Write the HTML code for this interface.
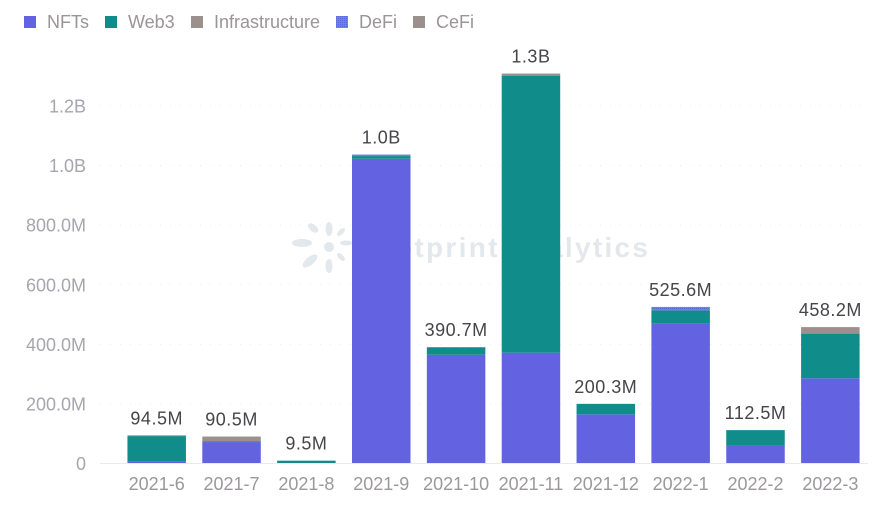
<!DOCTYPE html>
<html lang="en">
<head>
<meta charset="utf-8">
<title>Monthly funding by category</title>
<style>
html,body{margin:0;padding:0;background:#fff;width:885px;height:509px;overflow:hidden}
svg{display:block}
text{font-family:"Liberation Sans",sans-serif;font-size:18px}
</style>
</head>
<body>
<svg id="chart" width="885" height="509" viewBox="0 0 885 509" xmlns="http://www.w3.org/2000/svg">
<defs>
<pattern id="defi-hatch" width="2" height="2" patternUnits="userSpaceOnUse">
<rect width="2" height="2" fill="#6f86cc"/>
<rect width="1" height="1" fill="#5a63dc"/>
</pattern>
</defs>
<g id="grid"></g>
<g id="watermark">
<g fill="#e3e8ec">
<circle cx="329" cy="247" r="5"/>
<ellipse cx="329" cy="229" rx="3.5" ry="7"/>
<ellipse cx="329" cy="266" rx="3.5" ry="7"/>
<ellipse cx="302" cy="243" rx="10" ry="4"/>
<ellipse cx="346" cy="243" rx="6" ry="2.5"/>
<ellipse cx="313" cy="228" rx="6" ry="3.5" transform="rotate(40 313 228)"/>
<ellipse cx="310" cy="261" rx="9" ry="4" transform="rotate(-40 310 261)"/>
<ellipse cx="341" cy="232" rx="5" ry="2.5" transform="rotate(-45 341 232)"/>
<ellipse cx="341" cy="257" rx="5" ry="2.5" transform="rotate(45 341 257)"/>
</g>
<text x="364" y="257" fill="#e3e8ec" textLength="284" lengthAdjust="spacing" style="font-size:28px;font-weight:bold">footprint analytics</text>
</g>
<g id="yaxis"></g>
<g id="bars"></g>
<g id="labels"></g>
<g id="xaxis"></g>
<g id="legend"></g>
</svg>
<script>
const categories = ['2021-6','2021-7','2021-8','2021-9','2021-10','2021-11','2021-12','2022-1','2022-2','2022-3'];
const totalLabels = ['94.5M','90.5M','9.5M','1.0B','390.7M','1.3B','200.3M','525.6M','112.5M','458.2M'];
const nfts = [6, 72, 0.5, 1023, 365, 372, 165, 469, 62, 286];
const web3 = [86, 3, 9, 9, 25, 930, 35, 45, 50, 150];
const infrastructure = [0, 15.5, 0, 0, 0, 7, 0, 0, 0, 20];
const defi = [2.5, 0, 0, 5, 0.7, 0, 0.3, 11.6, 0.5, 0];
const cefi = [0, 0, 0, 0, 0, 0, 0, 0, 0, 2.2];
const yTicks = [0, 200, 400, 600, 800, 1000, 1200];
const yTickLabels = ['0','200.0M','400.0M','600.0M','800.0M','1.0B','1.2B'];

const NS = 'http://www.w3.org/2000/svg';
const seriesList = [
  {name:'NFTs', values:nfts, fill:'#6363e2', lx:24, tx:47},
  {name:'Web3', values:web3, fill:'#108c8a', lx:105, tx:128},
  {name:'Infrastructure', values:infrastructure, fill:'#9b908c', lx:191, tx:214},
  {name:'DeFi', values:defi, fill:'url(#defi-hatch)', lx:336, tx:359},
  {name:'CeFi', values:cefi, fill:'#9b908c', lx:413, tx:436}
];
const y = function(v){ return 463.5 - v * 0.2979; };
const x = function(i){ return 156.7 + i * 74.85; };
const barWidth = 58.5;

function make(tag, parent, attrs, content){
  const el = document.createElementNS(NS, tag);
  for (const k in attrs) el.setAttribute(k, attrs[k]);
  if (content !== undefined) el.textContent = content;
  parent.appendChild(el);
  return el;
}

const grid = document.getElementById('grid');
const yaxis = document.getElementById('yaxis');
const bars = document.getElementById('bars');
const labels = document.getElementById('labels');
const xaxis = document.getElementById('xaxis');
const legend = document.getElementById('legend');

yTicks.forEach(function(t, i){
  if (t > 0) {
    const line = make('line', grid, {x1:100, x2:862, y1:y(t), y2:y(t), stroke:'#ececf0', 'stroke-width':1, 'stroke-dasharray':'1 9'});
    
    
  }
  const label = make('text', yaxis, {x:86, y:y(t)+6.5, 'text-anchor':'end', fill:'#a6a6ae'}, yTickLabels[i]);
  
  
});

const axisLine = make('line', xaxis, {x1:100, x2:868, y1:463.5, y2:463.5, stroke:'#eaeaee', 'stroke-width':1});



categories.forEach(function(c, i){
  let acc = 0;
  seriesList.forEach(function(s){
    const v = s.values[i];
    if (v <= 0) return;
    const top = y(acc + v), bottom = y(acc);
    const r = make('rect', bars, {x:x(i)-barWidth/2, y:top, width:barWidth, height:bottom-top, fill:s.fill});
    
    
    acc += v;
  });
  const tl = make('text', labels, {x:x(i), y:y(acc)-11, 'text-anchor':'middle', fill:'#45454a', 'letter-spacing':'0.5'}, totalLabels[i]);
  
  
  const xl = make('text', xaxis, {x:x(i), y:490, 'text-anchor':'middle', fill:'#9c979c'}, c);
  
  
});

seriesList.forEach(function(s){
  const g = make('g', legend, {});
  
  
  make('rect', g, {x:s.lx, y:16, width:12, height:12, fill:s.fill});
  make('text', g, {x:s.tx, y:28, fill:'#9b9498'}, s.name);
});
</script>
</body>
</html>
